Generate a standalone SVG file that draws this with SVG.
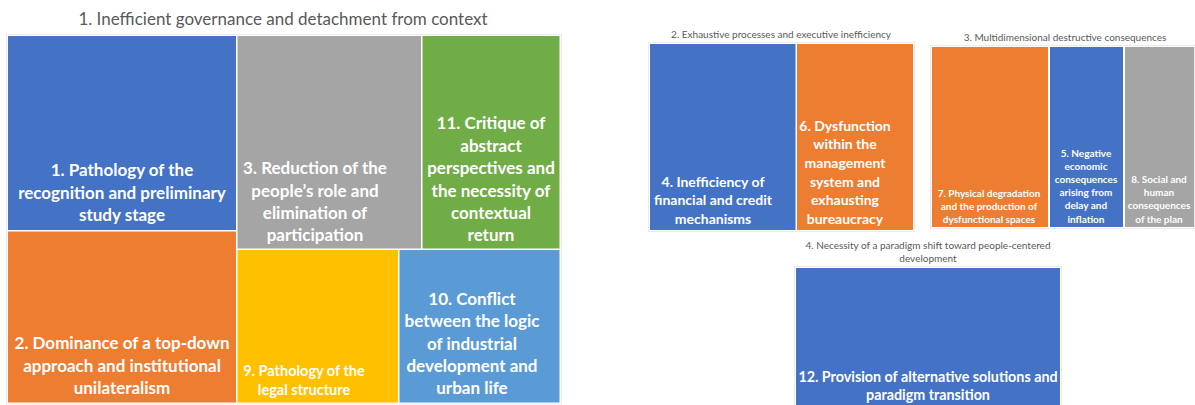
<svg xmlns="http://www.w3.org/2000/svg" width="1195" height="405" viewBox="0 0 1195 405">
  <style>
    .lbl{font-family:Lato,"Liberation Sans",sans-serif;font-weight:700;fill:#ffffff;text-anchor:middle}
    .ttl{font-family:Lato,"Liberation Sans",sans-serif;font-weight:400;fill:#595959;text-anchor:middle}
    .frame{fill:none;stroke:#ebebeb;stroke-width:1}
    .blue{fill:#4472c4}
    .orange{fill:#ed7d31}
    .grey{fill:#a5a5a5}
    .yellow{fill:#ffc000}
    .lblue{fill:#5b9bd5}
    .green{fill:#70ad47}
    .big{font-size:17px}
    .yl{font-size:14.5px}
    .mid{font-size:14px}
    .bot{font-size:14.3px}
    .sm{font-size:10px}
  </style>
  <rect width="1195" height="405" fill="#ffffff"/>

  <!-- Group 1 treemap -->
  <g id="group1">
    <text class="ttl" x="283" y="25" font-size="17">1. Inefficient governance and detachment from context</text>
    <rect class="frame" x="6.5" y="34.5" width="555" height="369.5"/>
  </g>
  <g id="node1">
    <rect class="blue" x="8" y="36" width="228" height="194"/>
    <text class="lbl big"><tspan x="122" y="176">1. Pathology of the</tspan><tspan x="122" y="198.5">recognition and preliminary</tspan><tspan x="122" y="221">study stage</tspan></text>
  </g>
  <g id="node2">
    <rect class="orange" x="8" y="231.5" width="228" height="171"/>
    <text class="lbl big"><tspan x="122" y="349">2. Dominance of a top-down</tspan><tspan x="122" y="371.5">approach and institutional</tspan><tspan x="122" y="394">unilateralism</tspan></text>
  </g>
  <g id="node3">
    <rect class="grey" x="237.5" y="36" width="183.5" height="212.5"/>
    <text class="lbl big"><tspan x="315" y="174">3. Reduction of the</tspan><tspan x="315" y="196.5">people’s role and</tspan><tspan x="315" y="219">elimination of</tspan><tspan x="315" y="241">participation</tspan></text>
  </g>
  <g id="node11">
    <rect class="green" x="422.5" y="36" width="137" height="212.5"/>
    <text class="lbl big"><tspan x="491" y="129">11. Critique of</tspan><tspan x="491" y="151.5">abstract</tspan><tspan x="491" y="174">perspectives and</tspan><tspan x="491" y="196.5">the necessity of</tspan><tspan x="491" y="219">contextual</tspan><tspan x="491" y="241">return</tspan></text>
  </g>
  <g id="node9">
    <rect class="yellow" x="237.5" y="250" width="160.5" height="152.5"/>
    <text class="lbl yl"><tspan x="304" y="376">9. Pathology of the</tspan><tspan x="304" y="395">legal structure</tspan></text>
  </g>
  <g id="node10">
    <rect class="lblue" x="399.5" y="250" width="160" height="152.5"/>
    <text class="lbl big"><tspan x="472" y="305">10. Conflict</tspan><tspan x="472" y="327">between the logic</tspan><tspan x="472" y="349.5">of industrial</tspan><tspan x="472" y="372">development and</tspan><tspan x="472" y="394">urban life</tspan></text>
  </g>

  <!-- Group 2 treemap -->
  <g id="group2">
    <text class="ttl" x="781" y="38" font-size="10">2. Exhaustive processes and executive inefficiency</text>
    <rect class="frame" x="648.5" y="42.5" width="266" height="189"/>
  </g>
  <g id="node4">
    <rect class="blue" x="650" y="44" width="145.5" height="186"/>
    <text class="lbl mid"><tspan x="713" y="186.5">4. Inefficiency of</tspan><tspan x="713" y="205">financial and credit</tspan><tspan x="713" y="223.5">mechanisms</tspan></text>
  </g>
  <g id="node6">
    <rect class="orange" x="797" y="44" width="116" height="186"/>
    <text class="lbl mid"><tspan x="845" y="130.5">6. Dysfunction</tspan><tspan x="845" y="149">within the</tspan><tspan x="845" y="167.5">management</tspan><tspan x="845" y="186.5">system and</tspan><tspan x="845" y="205">exhausting</tspan><tspan x="845" y="223.5">bureaucracy</tspan></text>
  </g>

  <!-- Group 3 treemap -->
  <g id="group3">
    <text class="ttl" x="1065" y="40.5" font-size="10">3. Multidimensional destructive consequences</text>
    <rect class="frame" x="930.5" y="45.5" width="264" height="183"/>
  </g>
  <g id="node7">
    <rect class="orange" x="932" y="47" width="116" height="180"/>
    <text class="lbl sm"><tspan x="989" y="196.5">7. Physical degradation</tspan><tspan x="989" y="209.5">and the production of</tspan><tspan x="989" y="222.5">dysfunctional spaces</tspan></text>
  </g>
  <g id="node5">
    <rect class="blue" x="1050" y="47" width="73" height="180"/>
    <text class="lbl sm"><tspan x="1086" y="156.5">5. Negative</tspan><tspan x="1086" y="169.5">economic</tspan><tspan x="1086" y="182.5">consequences</tspan><tspan x="1086" y="195.5">arising from</tspan><tspan x="1086" y="209">delay and</tspan><tspan x="1086" y="222.5">inflation</tspan></text>
  </g>
  <g id="node8">
    <rect class="grey" x="1125" y="47" width="69" height="180"/>
    <text class="lbl sm"><tspan x="1159" y="182.5">8. Social and</tspan><tspan x="1159" y="195.5">human</tspan><tspan x="1159" y="209">consequences</tspan><tspan x="1159" y="222.5">of the plan</tspan></text>
  </g>

  <!-- Group 4 treemap -->
  <g id="group4">
    <text class="ttl" x="928" y="248.5" font-size="10"><tspan x="928" y="248.5">4. Necessity of a paradigm shift toward people-centered</tspan><tspan x="928" y="261.5">development</tspan></text>
    <rect class="frame" x="794.5" y="266.5" width="267" height="140"/>
  </g>
  <g id="node12">
    <rect class="blue" x="796" y="268" width="264" height="140"/>
    <text class="lbl bot"><tspan x="928" y="381.5">12. Provision of alternative solutions and</tspan><tspan x="928" y="400">paradigm transition</tspan></text>
  </g>
</svg>
